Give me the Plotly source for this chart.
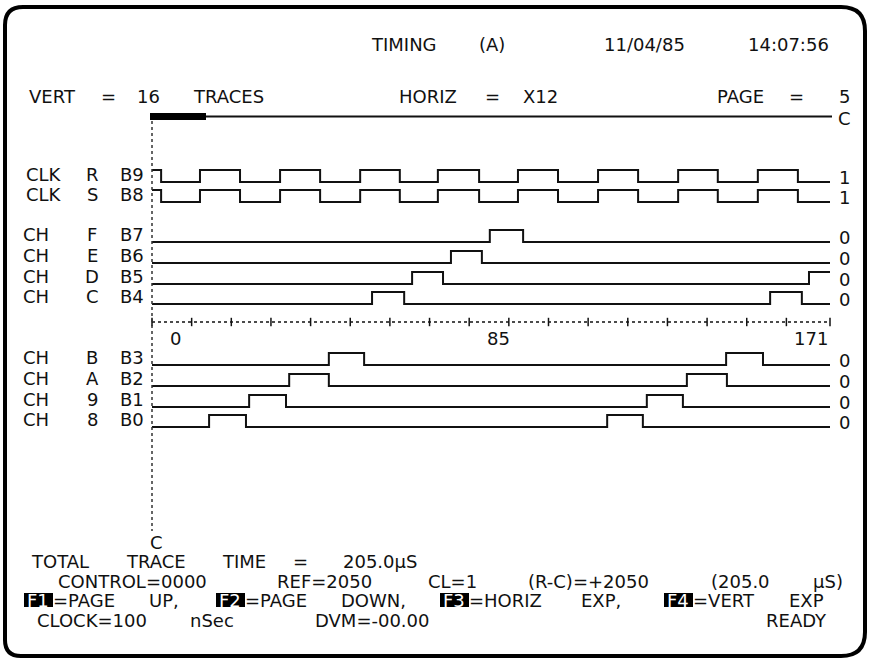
import re
import plotly.graph_objects as go

# ------------------------------------------------------------------ data
T_MAX = 171
row_group = ["CLK", "CLK", "CH", "CH", "CH", "CH", "CH", "CH", "CH", "CH"]
row_letter = ["R", "S", "F", "E", "D", "C", "B", "A", "9", "8"]
row_bit = ["B9", "B8", "B7", "B6", "B5", "B4", "B3", "B2", "B1", "B0"]
row_end_value = ["1", "1", "0", "0", "0", "0", "0", "0", "0", "0"]

# initial level and toggle times (in samples) for every trace
b9_start = 1
b9_edges = [2.3, 12.1, 22.2, 32.3, 42.4, 52.5, 62.5, 72.1, 82.5, 92.3, 102.4,
            112.5, 122.6, 132.7, 142.7, 152.8, 162.9]
b8_start = 1
b8_edges = [2.3, 12.1, 22.2, 32.3, 42.4, 52.5, 62.5, 72.1, 82.5, 92.3, 102.4,
            112.5, 122.6, 132.7, 142.7, 152.8, 162.9]
b7_start = 0
b7_edges = [85.2, 93.6]
b6_start = 0
b6_edges = [75.4, 83.2]
b5_start = 0
b5_edges = [65.6, 73.4, 165.7]
b4_start = 0
b4_edges = [55.5, 63.6, 155.9, 163.9]
b3_start = 0
b3_edges = [44.6, 53.5, 144.8, 154.1]
b2_start = 0
b2_edges = [34.6, 44.6, 134.9, 145.0]
b1_start = 0
b1_edges = [24.5, 33.8, 124.8, 133.9]
b0_start = 0
b0_edges = [14.4, 23.7, 114.8, 123.8]

axis_tick_values = [0, 10, 20, 30, 40, 50, 60, 70, 80, 90, 100, 110, 120,
                    130, 140, 150, 160, 171]
axis_label_values = [0, 85, 171]
axis_label_text = ["0", "85", "171"]

header_line = "TIMING (A)    11/04/85 14:07:56"
status_line = "VERT = 16 TRACES       HORIZ = X12         PAGE =  5"
total_line = "TOTAL TRACE TIME = 205.0µS"
control_line = " CONTROL=0000  REF=2050  CL=1 (R-C)=+2050 (205.0 µS)"
fkey_labels = ["F1", "F2", "F3", "F4"]
fkey_desc = ["=PAGE UP,", "=PAGE DOWN,", "=HORIZ EXP,", "=VERT EXP"]
clock_line = "CLOCK=100 nSec   DVM=-00.00"
ready_text = "READY"
cursor_text = "C"

# ------------------------------------------------------------------ layout
W, H = 873, 664
X_T0 = 152.0                 # pixel of sample 0
PX_PER_T = 678.0 / 171.0
X0, PITCH = 20.0, 16.0       # character grid
FONT = "DejaVu Sans"
FS = 18
INK = "#111111"
AMP = 12
row_base_y = [182, 202, 242, 263, 284, 304, 365, 386, 407, 427]
row_start_levels = [b9_start, b8_start, b7_start, b6_start, b5_start,
                    b4_start, b3_start, b2_start, b1_start, b0_start]
row_edges = [b9_edges, b8_edges, b7_edges, b6_edges, b5_edges,
             b4_edges, b3_edges, b2_edges, b1_edges, b0_edges]

Y_HEADER, Y_STATUS = 44, 96
Y_TOTAL, Y_CONTROL, Y_FKEY, Y_CLOCK = 561, 581, 600, 620
Y_AXIS, Y_AXIS_LABEL = 322, 338

fig = go.Figure()


def col_x(c):
    return (X0 + PITCH * c) / W


annotations = []


def text(s, xpx, y, anchor="center", color=INK, size=FS):
    annotations.append(dict(
        text=s, x=xpx / W, xref="paper", y=y, yref="y", xanchor=anchor,
        yanchor="middle", showarrow=False,
        font=dict(family=FONT, size=size, color=color)))


def place_line(line, y, col0=0, anchor="center"):
    for m in re.finditer(r"\S+", line):
        if anchor == "left":
            text(m.group(), X0 + PITCH * (col0 + m.start()) - 1, y,
                 anchor="left")
        else:
            c = col0 + m.start() + len(m.group()) / 2.0
            text(m.group(), X0 + PITCH * c, y)


# traces
for base, lvl0, edges in zip(row_base_y, row_start_levels, row_edges):
    xs, lv = [0], [lvl0]
    cur = lvl0
    for e in edges:
        cur = 1 - cur
        xs.append(e)
        lv.append(cur)
    xs.append(T_MAX)
    lv.append(cur)
    fig.add_trace(go.Scatter(
        x=xs, y=[base - AMP * v for v in lv], mode="lines",
        line=dict(color=INK, width=2, shape="hv"), hoverinfo="skip",
        showlegend=False))

# time axis (dotted line + ticks)
fig.add_trace(go.Scatter(
    x=[0, T_MAX], y=[Y_AXIS, Y_AXIS], mode="lines",
    line=dict(color=INK, width=1.5, dash="dot"), hoverinfo="skip",
    showlegend=False))
fig.add_trace(go.Scatter(
    x=axis_tick_values, y=[Y_AXIS] * len(axis_tick_values), mode="markers",
    marker=dict(symbol="line-ns", size=6, line=dict(color=INK, width=1.5)),
    hoverinfo="skip", showlegend=False))

# cursor line
fig.add_trace(go.Scatter(
    x=[0, 0], y=[121, 531], mode="lines",
    line=dict(color="#333333", width=1.5, dash="dot"), hoverinfo="skip",
    showlegend=False))

# axis labels
for v, s, anc, dx in zip(axis_label_values, axis_label_text,
                         ["left", "center", "right"], [16, 9, 0]):
    text(s, X_T0 + PX_PER_T * v + dx, Y_AXIS_LABEL, anchor=anc)

# row labels
for base, g, l, b, ev in zip(row_base_y, row_group, row_letter, row_bit,
                             row_end_value):
    yl = base - 7.5
    text(g, X0 + PITCH * len(g) / 2.0, yl)
    text(l, X0 + PITCH * 4.5, yl)
    text(b, X0 + PITCH * 7.0, yl)
    text(ev, X0 + PITCH * 51.5, base - 5)

# header and status lines
place_line(header_line, Y_HEADER, 21)
place_line(status_line, Y_STATUS, 0)
text(cursor_text, X0 + PITCH * 51.5, 118)
text(cursor_text, X0 + PITCH * 8.5, 542)

# bottom lines
place_line(total_line, Y_TOTAL, 0)
place_line(control_line, Y_CONTROL, 0)
place_line(clock_line, Y_CLOCK, 0)
place_line(ready_text, Y_CLOCK, 46)

shapes = []
for lab, desc, c0 in zip(fkey_labels, fkey_desc, [0, 12, 26, 40]):
    shapes.append(dict(type="rect", xref="paper", yref="y",
                       x0=col_x(c0) + 4 / W, x1=col_x(c0 + 2) + 1 / W,
                       y0=Y_FKEY - 7, y1=Y_FKEY + 7,
                       fillcolor="black", line=dict(width=0)))
    text(lab, X0 + PITCH * (c0 + 1) + 2, Y_FKEY, color="white")
    place_line(desc, Y_FKEY, c0 + 2, anchor="left")

# page indicator bar
shapes.append(dict(type="rect", xref="paper", yref="y", x0=150 / W,
                   x1=206 / W, y0=113, y1=120, fillcolor="black",
                   line=dict(width=0)))
shapes.append(dict(type="line", xref="paper", yref="y", x0=206 / W,
                   x1=832 / W, y0=116.5, y1=116.5,
                   line=dict(color=INK, width=2)))

# rounded frame
L, R, T, B = 5, 865, 7, 656
rtl, rtr, rbl, rbr = 18, 24, 16, 24


def px(x):
    return f"{x / W:.5f}"


path = (f"M {px(L)},{T + rtl} Q {px(L)},{T} {px(L + rtl)},{T} "
        f"L {px(R - rtr)},{T} Q {px(R)},{T} {px(R)},{T + rtr} "
        f"L {px(R)},{B - rbr} Q {px(R)},{B} {px(R - rbr)},{B} "
        f"L {px(L + rbl)},{B} Q {px(L)},{B} {px(L)},{B - rbl} Z")
shapes.append(dict(type="path", xref="paper", yref="y", path=path,
                   line=dict(color="black", width=4)))

fig.update_layout(
    width=W, height=H, margin=dict(l=0, r=0, t=0, b=0),
    paper_bgcolor="white", plot_bgcolor="white",
    xaxis=dict(range=[-X_T0 / PX_PER_T, (W - X_T0) / PX_PER_T],
               visible=False, fixedrange=True),
    yaxis=dict(range=[H, 0], visible=False, fixedrange=True),
    annotations=annotations, shapes=shapes, showlegend=False)

fig.write_html("out.html", config={"displayModeBar": False},
               post_script="document.body.style.margin='0px';")
